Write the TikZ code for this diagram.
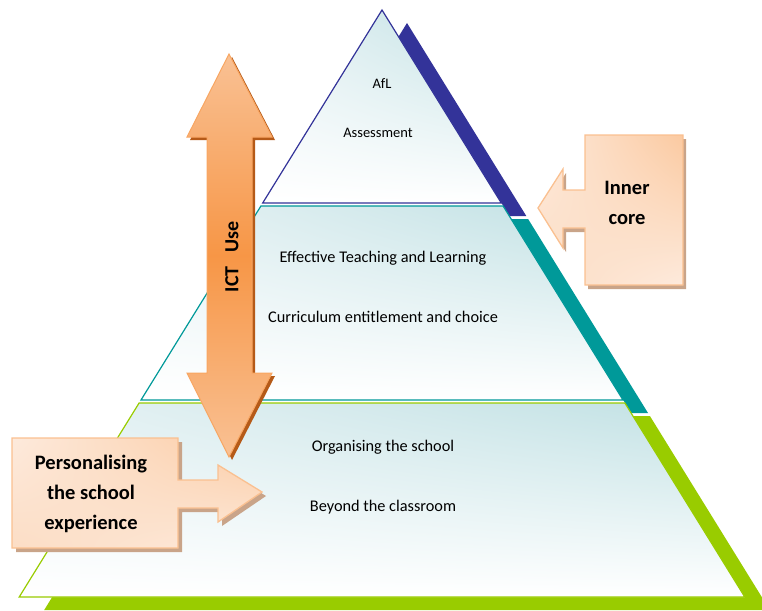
\documentclass[tikz,border=0pt]{standalone}
\usepackage{fontspec}
\usetikzlibrary{shadings}
\setmainfont{Carlito}
\definecolor{layerblue}{HTML}{333399}
\definecolor{layerteal}{HTML}{009999}
\definecolor{layergreen}{HTML}{99CC00}
\definecolor{iceblue}{HTML}{BFE0E3}
\definecolor{icepale}{HTML}{E6F2F4}
\definecolor{orangemid}{HTML}{F79646}
\definecolor{orangelight}{HTML}{F9C194}
\definecolor{orangedark}{HTML}{B55A18}
\definecolor{peach}{HTML}{FAC090}
\definecolor{peachpale}{HTML}{FDEADC}
\definecolor{calloutshadow}{HTML}{C9A489}
\begin{document}
\begin{tikzpicture}[x=1pt,y=-1pt,
  layerfill/.style={upper left=icepale, upper right=iceblue, lower left=white, lower right=white},
  layertext/.style={font=\fontsize{16.3}{19}\selectfont, inner sep=0pt},
  toptext/.style={font=\fontsize{14.5}{17}\selectfont, inner sep=0pt},
  callout/.style={draw=peach, line width=1.3pt, line join=miter,
    upper left=peachpale, upper right=peach!85, lower left=peachpale!70!peach, lower right=peachpale},
  callouttext/.style={font=\bfseries\fontsize{20.5}{30}\selectfont, align=center, inner sep=0pt},
  icttext/.style={font=\bfseries\fontsize{20}{24}\selectfont, inner sep=0pt, rotate=90}]
\useasboundingbox (0,0) rectangle (762,610);

% --- pyramid shadows (offset bands on the right and bottom)
\fill[layerblue]  (407,23) -- (526.3,216) -- (287.7,216) -- cycle;
\fill[layerteal]  (285.9,219) -- (528.1,219) -- (648,413) -- (166,413) -- cycle;
\fill[layergreen] (164.1,416) -- (649.9,416) -- (769.8,610) -- (44.2,610) -- cycle;
\fill[white] (382,10) -- (744.8,597) -- (19.2,597) -- cycle;

% --- pyramid layers
\shade[layerfill] (382,10) -- (501.3,203) -- (262.7,203) -- cycle;
\draw[layerblue, line width=1.2pt, line join=miter] (382,10) -- (501.3,203) -- (262.7,203) -- cycle;
\shade[layerfill] (260.9,206) -- (503.1,206) -- (623,400) -- (141,400) -- cycle;
\draw[layerteal, line width=1.2pt] (260.9,206) -- (503.1,206) -- (623,400) -- (141,400) -- cycle;
\shade[layerfill] (139.1,403) -- (624.9,403) -- (744.8,597) -- (19.2,597) -- cycle;
\draw[layergreen, line width=1.2pt] (139.1,403) -- (624.9,403) -- (744.8,597) -- (19.2,597) -- cycle;

% --- layer labels
\node[toptext] (afl)  at (382,84)  {AfL};
\node[toptext] (assm) at (378,133) {Assessment};
\node[layertext] (etl)  at (383,258) {Effective Teaching and Learning};
\node[layertext] (cur)  at (383,317) {Curriculum entitlement and choice};
\node[layertext] (org)  at (383,447) {Organising the school};
\node[layertext] (bey)  at (383,507) {Beyond the classroom};

% --- ICT double arrow
\fill[orangedark] (232,57) -- (275,140) -- (255,140) -- (255,376) -- (275,376) -- (232,460)
  -- (190,376) -- (210,376) -- (210,140) -- (190,140) -- cycle;
\shade[top color=orangelight, bottom color=orangelight, middle color=orangemid, draw=orangemid!85!white, line width=1pt]
  (229,54) -- (272,137) -- (252,137) -- (252,373) -- (272,373) -- (229,457)
  -- (187,373) -- (207,373) -- (207,137) -- (187,137) -- cycle;
\node[icttext] (ict) at (232,257) {ICT\hspace{9pt} Use};

% --- inner core callout
\fill[calloutshadow] (588,139) -- (686,139) -- (686,289) -- (588,289) -- (588,232) -- (566,232)
  -- (566,252) -- (541,212) -- (566,173) -- (566,194) -- (588,194) -- cycle;
\shade[callout] (585,135) -- (683,135) -- (683,285) -- (585,285) -- (585,228) -- (563,228)
  -- (563,248) -- (538,208) -- (563,169) -- (563,190) -- (585,190) -- cycle;
\node[callouttext] (inner) at (627,203) {Inner\\core};

% --- personalising callout
\fill[calloutshadow] (16,442) -- (182,442) -- (182,484) -- (222,484) -- (222,469) -- (266,496)
  -- (222,526) -- (222,512) -- (182,512) -- (182,552) -- (16,552) -- cycle;
\shade[callout] (12,438) -- (178,438) -- (178,480) -- (218,480) -- (218,465) -- (262,492)
  -- (218,522) -- (218,508) -- (178,508) -- (178,548) -- (12,548) -- cycle;
\node[callouttext] (pers) at (91,494) {Personalising\\the school\\experience};
\end{tikzpicture}
\end{document}
